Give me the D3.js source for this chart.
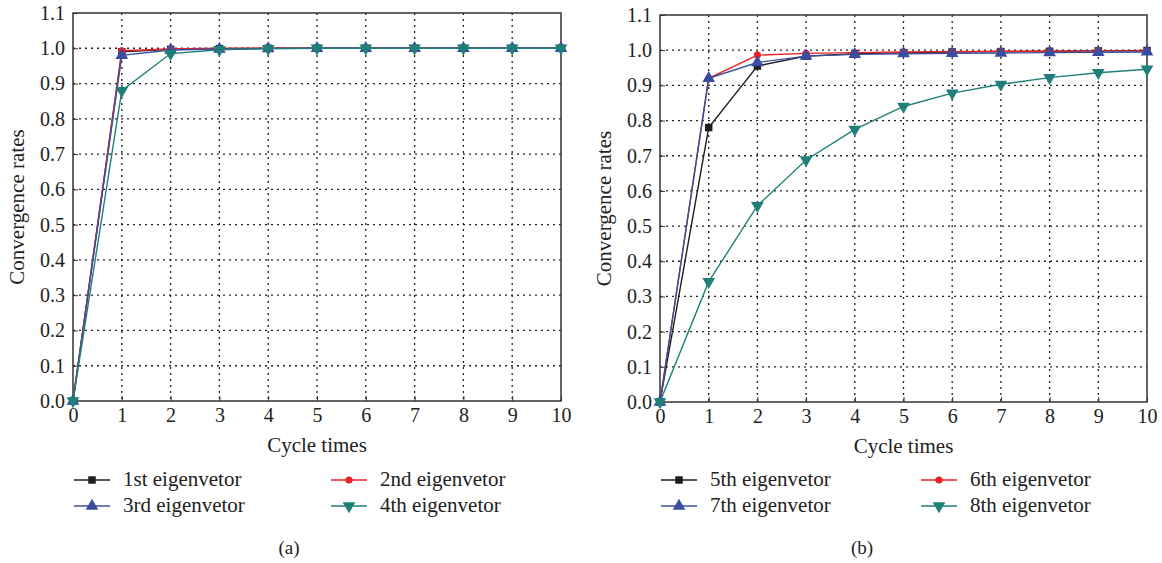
<!DOCTYPE html>
<html>
<head>
<meta charset="utf-8">
<script src="https://cdn.jsdelivr.net/npm/d3@7"></script>
<style>
  body { margin: 0; background: #fff; }
</style>
</head>
<body>
<div id="myDiv"></div>
<script>
// data
var cycles = [0, 1, 2, 3, 4, 5, 6, 7, 8, 9, 10];
var yTicks = [0.0, 0.1, 0.2, 0.3, 0.4, 0.5, 0.6, 0.7, 0.8, 0.9, 1.0, 1.1];

var vec1 = [0, 0.990, 0.997, 0.999, 1.000, 1.000, 1.000, 1.000, 1.000, 1.000, 1.000];
var vec2 = [0, 0.993, 0.998, 1.000, 1.000, 1.000, 1.000, 1.000, 1.000, 1.000, 1.000];
var vec3 = [0, 0.980, 0.995, 0.998, 0.999, 1.000, 1.000, 1.000, 1.000, 1.000, 1.000];
var vec4 = [0, 0.880, 0.985, 0.996, 0.999, 1.000, 1.000, 1.000, 1.000, 1.000, 1.000];

var vec5 = [0, 0.780, 0.955, 0.983, 0.990, 0.993, 0.995, 0.996, 0.997, 0.998, 0.999];
var vec6 = [0, 0.920, 0.986, 0.991, 0.993, 0.995, 0.996, 0.997, 0.997, 0.998, 0.998];
var vec7 = [0, 0.920, 0.965, 0.983, 0.988, 0.990, 0.991, 0.992, 0.993, 0.994, 0.995];
var vec8 = [0, 0.342, 0.558, 0.688, 0.775, 0.840, 0.878, 0.903, 0.922, 0.936, 0.946];

var namesA = ["1st eigenvetor", "2nd eigenvetor", "3rd eigenvetor", "4th eigenvetor"];
var namesB = ["5th eigenvetor", "6th eigenvetor", "7th eigenvetor", "8th eigenvetor"];

var colors = ["#1e1e1e", "#ec2227", "#3a4ea0", "#1f8079"];
var symbols = [d3.symbolSquare, d3.symbolCircle, d3.symbolTriangle, d3.symbolTriangle];
var symSize = [56, 40, 70, 70];
var symRot = [0, 0, 0, 180];

var FONT = "Liberation Serif";

var W = 1162, H = 563;
var svg = d3.select("#myDiv").append("svg")
    .attr("width", W).attr("height", H);

function panel(opt) {
  var x = d3.scaleLinear().domain([0, 10]).range([opt.left, opt.right]);
  var y = d3.scaleLinear().domain([0, 1.1]).range([opt.bottom, opt.top]);
  var g = svg.append("g");

  // grid
  g.selectAll(".vg").data(cycles.slice(1, -1)).enter().append("line")
    .attr("x1", function(d) { return x(d); }).attr("x2", function(d) { return x(d); })
    .attr("y1", opt.top).attr("y2", opt.bottom)
    .attr("stroke", "#222").attr("stroke-width", 1.3).attr("stroke-dasharray", "2,4");
  g.selectAll(".hg").data(yTicks.slice(1, -1)).enter().append("line")
    .attr("x1", opt.left).attr("x2", opt.right)
    .attr("y1", function(d) { return y(d); }).attr("y2", function(d) { return y(d); })
    .attr("stroke", "#222").attr("stroke-width", 1.3).attr("stroke-dasharray", "2,4");

  // axes
  var xAxis = d3.axisBottom(x).tickValues(cycles).tickSize(-5).tickPadding(7)
    .tickFormat(d3.format("d"));
  var gx = g.append("g").attr("transform", "translate(0," + opt.bottom + ")").call(xAxis);
  var yAxis = d3.axisLeft(y).tickValues(yTicks).tickSize(-5).tickPadding(8)
    .tickFormat(d3.format(".1f"));
  var gy = g.append("g").attr("transform", "translate(" + opt.left + ",0)").call(yAxis);
  [gx, gy].forEach(function(a) {
    a.attr("font-family", FONT).attr("font-size", 20);
    a.select(".domain").remove();
    a.selectAll("line").attr("stroke", "#333");
    a.selectAll("text").attr("fill", "#222");
  });

  // frame
  g.append("rect").attr("x", opt.left).attr("y", opt.top)
    .attr("width", opt.right - opt.left).attr("height", opt.bottom - opt.top)
    .attr("fill", "none").attr("stroke", "#333").attr("stroke-width", 1.5);

  // series
  var line = d3.line().x(function(d, i) { return x(cycles[i]); }).y(function(d) { return y(d); });
  opt.series.forEach(function(s, k) {
    g.append("path").datum(s).attr("d", line)
      .attr("fill", "none").attr("stroke", colors[k]).attr("stroke-width", 1.4);
    g.selectAll(".m" + k).data(s).enter().append("path")
      .attr("d", d3.symbol().type(symbols[k]).size(symSize[k]))
      .attr("transform", function(d, i) {
        return "translate(" + x(cycles[i]) + "," + y(d) + ") rotate(" + symRot[k] + ")";
      })
      .attr("fill", colors[k]);
  });

  // labels
  var t = g.append("g").attr("font-family", FONT).attr("fill", "#222");
  t.append("text").attr("x", (opt.left + opt.right) / 2).attr("y", opt.bottom + 51)
    .attr("text-anchor", "middle").attr("font-size", 21).text("Cycle times");
  t.append("text")
    .attr("transform", "translate(" + (opt.left - 49) + "," + ((opt.top + opt.bottom) / 2) + ") rotate(-90)")
    .attr("text-anchor", "middle").attr("font-size", 21).text("Convergence rates");
  t.append("text").attr("x", opt.capX).attr("y", 554)
    .attr("text-anchor", "middle").attr("font-size", 19).text(opt.caption);

  // legend
  var lg = t.selectAll(".leg").data(opt.names).enter().append("g")
    .attr("transform", function(d, i) {
      return "translate(" + (opt.left + 1 + (i % 2) * opt.colGap) + "," + (480 + Math.floor(i / 2) * 26) + ")";
    });
  lg.append("line").attr("x1", 0).attr("x2", 36).attr("y1", 0).attr("y2", 0)
    .attr("stroke", function(d, i) { return colors[i]; }).attr("stroke-width", 1.4);
  lg.append("path")
    .attr("d", function(d, i) { return d3.symbol().type(symbols[i]).size(symSize[i])(); })
    .attr("transform", function(d, i) { return "translate(18,0) rotate(" + symRot[i] + ")"; })
    .attr("fill", function(d, i) { return colors[i]; });
  lg.append("text").attr("x", 49).attr("y", 6).attr("font-size", 21)
    .text(function(d) { return d; });
}

panel({ left: 73, right: 561, top: 13, bottom: 401, series: [vec1, vec2, vec3, vec4],
        names: namesA, caption: "(a)", capX: 289, colGap: 257 });
panel({ left: 660, right: 1147, top: 15, bottom: 402, series: [vec5, vec6, vec7, vec8],
        names: namesB, caption: "(b)", capX: 862, colGap: 260 });
</script>
</body>
</html>
